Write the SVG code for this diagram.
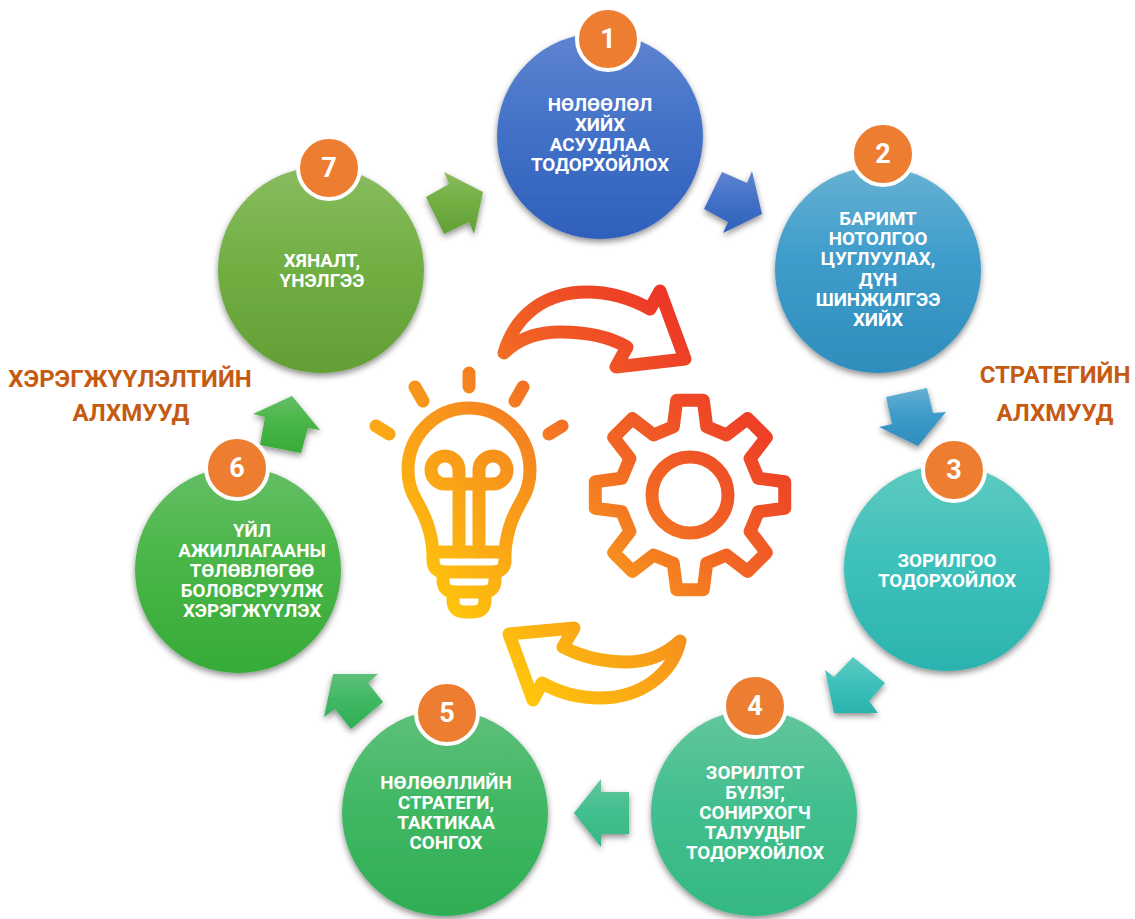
<svg xmlns="http://www.w3.org/2000/svg" width="1135" height="919" viewBox="0 0 1135 919">
<style>
.lbl{font-family:"Roboto","Liberation Sans",sans-serif;font-weight:700;font-size:18.8px;fill:#fff;text-anchor:middle}
.num{font-family:"Roboto","Liberation Sans",sans-serif;font-weight:700;font-size:27px;fill:#fff;text-anchor:middle}
.head{font-family:"Roboto","Liberation Sans",sans-serif;font-weight:700;font-size:24px;fill:#C55A11;text-anchor:middle}
.badge{fill:#ED7D31;stroke:#fff;stroke-width:4}
.disc,.arr{filter:url(#sh)}
.ic{fill:none;stroke:url(#ig);stroke-width:13;stroke-linejoin:round;stroke-linecap:round}
</style>
<defs>
<filter id="sh" x="-20%" y="-20%" width="140%" height="140%"><feDropShadow dx="0" dy="3" stdDeviation="3" flood-color="#000" flood-opacity="0.45"/></filter>
<linearGradient id="ig" gradientUnits="userSpaceOnUse" x1="480" y1="650" x2="765" y2="365"><stop offset="0" stop-color="#FFC60B"/><stop offset="0.4" stop-color="#F68D1E"/><stop offset="0.6" stop-color="#F16524"/><stop offset="1" stop-color="#EC2F28"/></linearGradient>
<linearGradient id="g1" x1="0" y1="0" x2="0" y2="1"><stop offset="0" stop-color="#5F84D0"/><stop offset="0.45" stop-color="#4472C8"/><stop offset="1" stop-color="#2E60BB"/></linearGradient>
<linearGradient id="g2" x1="0" y1="0" x2="0" y2="1"><stop offset="0" stop-color="#66B1D2"/><stop offset="0.45" stop-color="#3E9CCB"/><stop offset="1" stop-color="#2F8DBC"/></linearGradient>
<linearGradient id="g3" x1="0" y1="0" x2="0" y2="1"><stop offset="0" stop-color="#5FCABF"/><stop offset="0.45" stop-color="#3FC1BC"/><stop offset="1" stop-color="#2BB3AE"/></linearGradient>
<linearGradient id="g4" x1="0" y1="0" x2="0" y2="1"><stop offset="0" stop-color="#63C69C"/><stop offset="0.45" stop-color="#43BF8F"/><stop offset="1" stop-color="#35B882"/></linearGradient>
<linearGradient id="g5" x1="0" y1="0" x2="0" y2="1"><stop offset="0" stop-color="#5FC07B"/><stop offset="0.45" stop-color="#41B864"/><stop offset="1" stop-color="#2FAE54"/></linearGradient>
<linearGradient id="g6" x1="0" y1="0" x2="0" y2="1"><stop offset="0" stop-color="#65BE65"/><stop offset="0.45" stop-color="#49B647"/><stop offset="1" stop-color="#37AB38"/></linearGradient>
<linearGradient id="g7" x1="0" y1="0" x2="0" y2="1"><stop offset="0" stop-color="#8ABC60"/><stop offset="0.45" stop-color="#72B044"/><stop offset="1" stop-color="#629F35"/></linearGradient>
</defs>
<rect width="1135" height="919" fill="#fff"/>
<g id="connectors">
<polygon class="arr" fill="url(#g1)" points="722,172 747,183 752,171 762,214 723,233 728,222 704,209"/>
<polygon class="arr" fill="url(#g2)" points="886,397 927,388 933,413 946,412 918,446 879,427 892,424"/>
<polygon class="arr" fill="url(#g3)" points="853,657 885,683 869,701 878,713 834,713 825,670 834,677"/>
<polygon class="arr" fill="url(#g4)" points="574,813 601,779 601,792 629,792 629,834 601,834 601,847"/>
<polygon class="arr" fill="url(#g5)" points="333,674 378,674 368,683 383,702 351,729 335,709 324,717"/>
<polygon class="arr" fill="url(#g6)" points="292,396 320,430 308,428 301,453 260,445 265,417 253,414"/>
<polygon class="arr" fill="url(#g7)" points="444,172 483,192 474,234 469,222 444,234 426,197 449,184"/>
</g>
<g id="node1"><circle class="disc" cx="600" cy="136" r="103" fill="url(#g1)"/><circle class="badge" cx="608" cy="39" r="31"/><text class="num" x="608" y="48">1</text>
<text class="lbl" x="600" y="111">НӨЛӨӨЛӨЛ</text><text class="lbl" x="600" y="131">ХИЙХ</text><text class="lbl" x="600" y="151">АСУУДЛАА</text><text class="lbl" x="600" y="171">ТОДОРХОЙЛОХ</text></g>
<g id="node2"><circle class="disc" cx="878" cy="270" r="103" fill="url(#g2)"/><circle class="badge" cx="883" cy="154" r="31"/><text class="num" x="883" y="163">2</text>
<text class="lbl" x="878" y="225">БАРИМТ</text><text class="lbl" x="878" y="245">НОТОЛГОО</text><text class="lbl" x="878" y="265">ЦУГЛУУЛАХ,</text><text class="lbl" x="878" y="286">ДҮН</text><text class="lbl" x="878" y="306">ШИНЖИЛГЭЭ</text><text class="lbl" x="878" y="326">ХИЙХ</text></g>
<g id="node3"><circle class="disc" cx="947" cy="568" r="103" fill="url(#g3)"/><circle class="badge" cx="954" cy="470" r="31"/><text class="num" x="954" y="479">3</text>
<text class="lbl" x="947" y="567">ЗОРИЛГОО</text><text class="lbl" x="947" y="587">ТОДОРХОЙЛОХ</text></g>
<g id="node4"><circle class="disc" cx="754" cy="813" r="103" fill="url(#g4)"/><circle class="badge" cx="755" cy="706" r="31"/><text class="num" x="755" y="715">4</text>
<text class="lbl" x="755" y="779">ЗОРИЛТОТ</text><text class="lbl" x="755" y="799">БҮЛЭГ,</text><text class="lbl" x="755" y="819">СОНИРХОГЧ</text><text class="lbl" x="755" y="839">ТАЛУУДЫГ</text><text class="lbl" x="755" y="859">ТОДОРХОЙЛОХ</text></g>
<g id="node5"><circle class="disc" cx="445" cy="813" r="103" fill="url(#g5)"/><circle class="badge" cx="447" cy="713" r="31"/><text class="num" x="447" y="722">5</text>
<text class="lbl" x="446" y="789">НӨЛӨӨЛЛИЙН</text><text class="lbl" x="446" y="809">СТРАТЕГИ,</text><text class="lbl" x="446" y="829">ТАКТИКАА</text><text class="lbl" x="446" y="849">СОНГОХ</text></g>
<g id="node6"><circle class="disc" cx="238" cy="570" r="103" fill="url(#g6)"/><circle class="badge" cx="237" cy="468" r="31"/><text class="num" x="237" y="477">6</text>
<text class="lbl" x="252" y="537">ҮЙЛ</text><text class="lbl" x="252" y="557">АЖИЛЛАГААНЫ</text><text class="lbl" x="252" y="577">ТӨЛӨВЛӨГӨӨ</text><text class="lbl" x="252" y="597">БОЛОВСРУУЛЖ</text><text class="lbl" x="252" y="617">ХЭРЭГЖҮҮЛЭХ</text></g>
<g id="node7"><circle class="disc" cx="321" cy="270" r="103" fill="url(#g7)"/><circle class="badge" cx="329" cy="168" r="31"/><text class="num" x="329" y="177">7</text>
<text class="lbl" x="322" y="267">ХЯНАЛТ,</text><text class="lbl" x="322" y="287">ҮНЭЛГЭЭ</text></g>
<g id="headings">
<text class="head" x="1055" y="383">СТРАТЕГИЙН</text><text class="head" x="1055" y="421">АЛХМУУД</text>
<text class="head" x="130" y="387">ХЭРЭГЖҮҮЛЭЛТИЙН</text><text class="head" x="131" y="421">АЛХМУУД</text>
</g>
<g id="icons" class="ic">
<path d="M504,353 C515,315 545,292 587,292 C612,292 632,299 650,309 L660,291 L685,359 L616,367 L627,347 C610,337 585,332 560,332 C535,332 517,340 504,353 Z"/>
<path d="M680,641 C672,675 640,698 600,698 C578,698 558,692 542,683 L533,700 L509,634 L574,628 L563,647 C582,657 605,662 627,662 C650,662 667,653 680,641 Z"/>
<path d="M469,373V387M415,387L423,401M523,387L515,401M376,426L389,434M562,426L549,434"/>
<path d="M433,552 C431,528 424,514 416,500 C410,490 408,482 408,470 A61,62 0 0 1 530,470 C530,482 528,490 522,500 C514,514 507,528 505,552"/>
<path d="M459,552 V470 A14,14 0 1 0 445,484 H493 A14,14 0 1 0 479,470 V552"/>
<path d="M433,552 V560 Q433,572 445,572 H493 Q505,572 505,560 V552 Z"/>
<path d="M443,572 V580 Q443,592 455,592 H483 Q495,592 495,580 V572"/>
<path d="M453,592 V600 Q453,612 465,612 H473 Q485,612 485,600 V592"/>
<polygon points="673.3,426.7 676.7,400.3 703.3,400.3 706.7,426.7 726.5,434.9 747.6,418.6 766.4,437.4 750.1,458.5 758.3,478.3 784.7,481.7 784.7,508.3 758.3,511.7 750.1,531.5 766.4,552.6 747.6,571.4 726.5,555.1 706.7,563.3 703.3,589.7 676.7,589.7 673.3,563.3 653.5,555.1 632.4,571.4 613.6,552.6 629.9,531.5 621.7,511.7 595.3,508.3 595.3,481.7 621.7,478.3 629.9,458.5 613.6,437.4 632.4,418.6 653.5,434.9"/>
<circle cx="690" cy="495" r="38"/>
</g>
</svg>
